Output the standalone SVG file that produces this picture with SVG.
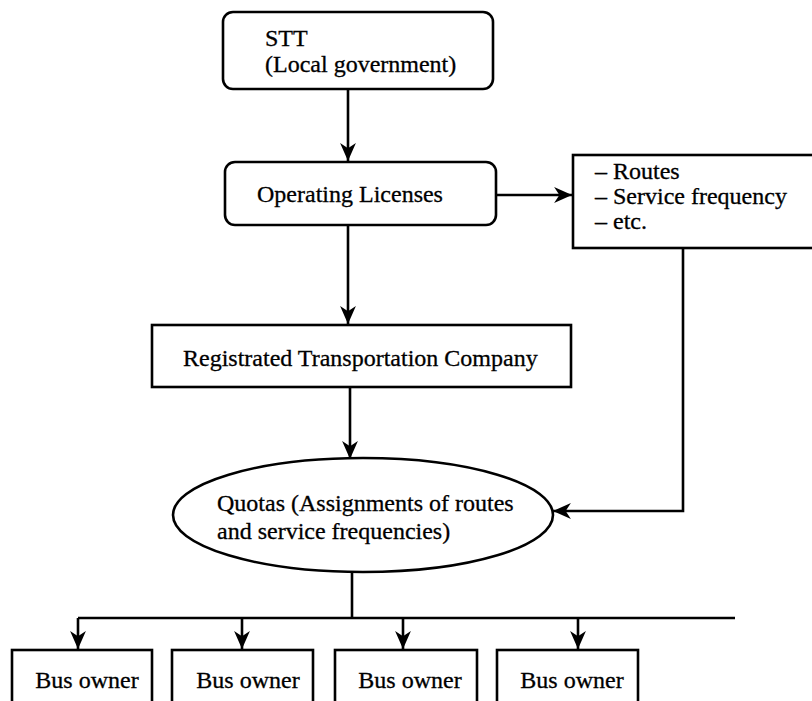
<svg xmlns="http://www.w3.org/2000/svg" width="812" height="701" viewBox="0 0 812 701">
<style>
.box{fill:#fff;stroke:#000;stroke-width:2.6}
.t{font-family:"Liberation Serif","Times New Roman",serif;font-size:24px;fill:#000;stroke:#000;stroke-width:0.3}
.c{text-anchor:middle}
.ln{fill:none;stroke:#000;stroke-width:2.6}
</style>
<defs>
<marker id="ah" markerUnits="userSpaceOnUse" markerWidth="20" markerHeight="20" refX="0" refY="0" viewBox="-18 -9 19 18" orient="auto">
<path d="M0,0 L-17,-7.5 L-12,0 L-17,7.5 Z" fill="#000"/>
</marker>
</defs>
<rect width="812" height="701" fill="#fff"/>
<g id="connectors">
<path class="ln" d="M348,89 V161" marker-end="url(#ah)"/>
<path class="ln" d="M496,195 H572" marker-end="url(#ah)"/>
<path class="ln" d="M348,225 V324" marker-end="url(#ah)"/>
<path class="ln" d="M350,387 V459" marker-end="url(#ah)"/>
<path class="ln" d="M683,248 V511 H553" marker-end="url(#ah)"/>
<path class="ln" d="M352,572 V618"/>
<path class="ln" d="M78,618 H735"/>
<path class="ln" d="M78,618 V649" marker-end="url(#ah)"/>
<path class="ln" d="M242,618 V649" marker-end="url(#ah)"/>
<path class="ln" d="M403,618 V649" marker-end="url(#ah)"/>
<path class="ln" d="M578,618 V649" marker-end="url(#ah)"/>
</g>
<g id="stt">
<rect class="box" x="223" y="12" width="270" height="77" rx="10"/>
<text class="t" x="265" y="46">STT</text>
<text class="t" x="265" y="72">(Local government)</text>
</g>
<g id="licenses">
<rect class="box" x="225" y="162" width="271" height="63" rx="10"/>
<text class="t c" x="350" y="202">Operating Licenses</text>
</g>
<g id="items">
<rect class="box" x="573" y="155" width="260" height="93"/>
<text class="t" x="595" y="179">– Routes</text>
<text class="t" x="595" y="204">– Service frequency</text>
<text class="t" x="595" y="229">– etc.</text>
</g>
<g id="company">
<rect class="box" x="152" y="325" width="419" height="62"/>
<text class="t" x="183" y="366">Registrated Transportation Company</text>
</g>
<g id="quotas">
<ellipse class="box" cx="363" cy="515" rx="190" ry="57"/>
<text class="t" x="217" y="511">Quotas (Assignments of routes</text>
<text class="t" x="217" y="539">and service frequencies)</text>
</g>
<g id="owner1">
<rect class="box" x="12" y="650" width="140" height="70"/>
<text class="t c" x="87" y="688">Bus owner</text>
</g>
<g id="owner2">
<rect class="box" x="172" y="650" width="141" height="70"/>
<text class="t c" x="248" y="688">Bus owner</text>
</g>
<g id="owner3">
<rect class="box" x="335" y="650" width="142" height="70"/>
<text class="t c" x="410" y="688">Bus owner</text>
</g>
<g id="owner4">
<rect class="box" x="497" y="650" width="141" height="70"/>
<text class="t c" x="572" y="688">Bus owner</text>
</g>
</svg>
